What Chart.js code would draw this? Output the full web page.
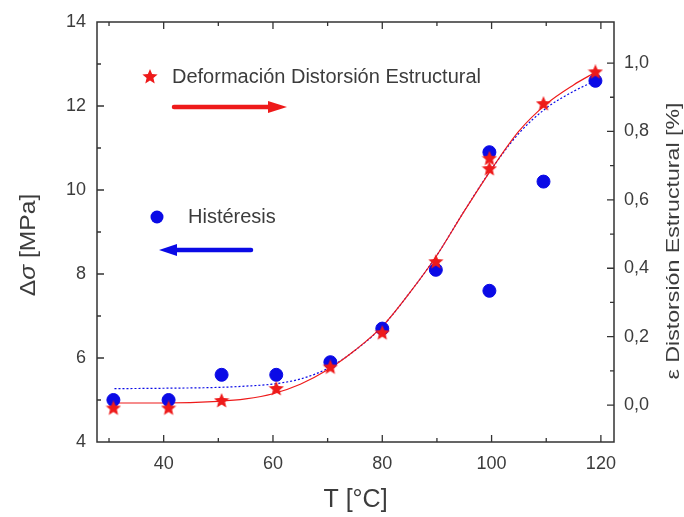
<!DOCTYPE html>
<html>
<head>
<meta charset="utf-8">
<script src="https://cdn.jsdelivr.net/npm/chart.js@4.4.1/dist/chart.umd.min.js"></script>
<style>
  body { margin: 0; background: #fff; }
  #wrap { width: 684px; height: 517px; }
</style>
</head>
<body>
<div id="wrap"><canvas id="grafico"></canvas></div>
<script>
// Temperatura de cada ensayo [°C]
const temperatura = [30.8, 40.9, 50.6, 60.6, 70.5, 80, 89.8, 99.6, 99.6, 109.5, 119];
// Histéresis Δσ [MPa] (eje izquierdo)
const histeresis = [5.0, 5.0, 5.6, 5.6, 5.9, 6.7, 8.1, 10.9, 7.6, 10.2, 12.6];
// Deformación por distorsión estructural [%] (eje derecho)
const deformacion = [-0.01, -0.01, 0.012, 0.047, 0.11, 0.21, 0.418, 0.72, 0.69, 0.88, 0.973];

// Curvas de ajuste
const ajusteT = [31, 40, 50, 55, 60, 65, 70, 75, 80, 85, 90, 95, 100, 105, 110, 115, 119];
const ajusteHist = [5.27, 5.28, 5.3, 5.33, 5.38, 5.5, 5.75, 6.18, 6.75, 7.55, 8.45, 9.5, 10.5, 11.35, 11.95, 12.35, 12.6];
const ajusteDef = [0.006, 0.006, 0.011, 0.018, 0.033, 0.061, 0.103, 0.16, 0.23, 0.328, 0.438, 0.567, 0.69, 0.801, 0.88, 0.936, 0.973];

// Marcas de los ejes
const ticksX = [40, 60, 80, 100, 120];
const ticksIzq = [4, 6, 8, 10, 12, 14];
const ticksDer = [0, 0.2, 0.4, 0.6, 0.8, 1.0];

const AZUL = '#0a0ae6';
const ROJO = '#ee1a1a';
const TEXTO = '#3c3c3c';
const FUENTE = '"Liberation Sans", Arial, sans-serif';

function estrella(r, color) {
    const c = document.createElement('canvas');
    c.width = c.height = 2 * r;
    const g = c.getContext('2d');
    g.beginPath();
    for (let i = 0; i < 10; i++) {
        const a = -Math.PI / 2 + i * Math.PI / 5;
        const rr = i % 2 ? r * 0.45 : r;
        g.lineTo(r + rr * Math.cos(a), r + rr * Math.sin(a));
    }
    g.closePath();
    g.fillStyle = color;
    g.fill();
    return c;
}
const imgEstrella = estrella(8, ROJO);

const pares = (xs, ys) => xs.map((x, i) => ({ x: x, y: ys[i] }));

// marco tipo Origin con marcas hacia dentro, títulos y leyenda
const marco = {
    id: 'marco',
    afterDraw(chart) {
        const ctx = chart.ctx;
        const ca = chart.chartArea;
        const sx = chart.scales.x, sy = chart.scales.y, sy1 = chart.scales.y1;
        ctx.save();
        ctx.strokeStyle = '#333';
        ctx.lineWidth = 1.5;
        ctx.strokeRect(ca.left, ca.top, ca.right - ca.left, ca.bottom - ca.top);

        ctx.lineWidth = 1.3;
        ctx.beginPath();
        for (let v = 30; v <= 120; v += 10) {
            const p = sx.getPixelForValue(v);
            const l = v % 20 === 0 ? 7 : 4;
            ctx.moveTo(p, ca.bottom); ctx.lineTo(p, ca.bottom - l);
            ctx.moveTo(p, ca.top); ctx.lineTo(p, ca.top + l);
        }
        for (let v = 5; v <= 13; v += 1) {
            const p = sy.getPixelForValue(v);
            const l = v % 2 === 0 ? 7 : 4;
            ctx.moveTo(ca.left, p); ctx.lineTo(ca.left + l, p);
        }
        for (let k = 0; k <= 10; k++) {
            const p = sy1.getPixelForValue(k / 10);
            const l = k % 2 === 0 ? 7 : 4;
            ctx.moveTo(ca.right, p); ctx.lineTo(ca.right - l, p);
        }
        ctx.stroke();

        // títulos de ejes
        ctx.fillStyle = TEXTO;
        ctx.textBaseline = 'middle';
        ctx.textAlign = 'center';
        ctx.font = '25px ' + FUENTE;
        ctx.fillText('T [°C]', (ca.left + ca.right) / 2, 500);

        ctx.save();
        ctx.translate(29, 245);
        ctx.rotate(-Math.PI / 2);
        ctx.scale(1.12, 1);
        ctx.font = '22px ' + FUENTE;
        const a = 'Δ', c = ' [MPa]';
        const wa = ctx.measureText(a).width, wc = ctx.measureText(c).width;
        ctx.font = 'italic 22px ' + FUENTE;
        const wb = ctx.measureText('σ').width;
        let x0 = -(wa + wb + wc) / 2;
        ctx.textAlign = 'left';
        ctx.font = '22px ' + FUENTE;
        ctx.fillText(a, x0, 0);
        ctx.font = 'italic 22px ' + FUENTE;
        ctx.fillText('σ', x0 + wa, 0);
        ctx.font = '22px ' + FUENTE;
        ctx.fillText(c, x0 + wa + wb, 0);
        ctx.restore();

        ctx.save();
        ctx.translate(674, 241);
        ctx.rotate(-Math.PI / 2);
        ctx.scale(1.22, 1);
        ctx.font = '19px ' + FUENTE;
        ctx.fillText('ε Distorsión Estructural [%]', 0, 0);
        ctx.restore();

        // leyenda
        ctx.drawImage(imgEstrella, 150 - 8, 77 - 8);
        ctx.textAlign = 'left';
        ctx.font = '20px ' + FUENTE;
        ctx.fillText('Deformación Distorsión Estructural', 172, 77);
        ctx.beginPath();
        ctx.arc(157, 217, 6.5, 0, Math.PI * 2);
        ctx.fillStyle = AZUL;
        ctx.fill();
        ctx.fillStyle = TEXTO;
        ctx.fillText('Histéresis', 188, 217);

        // flechas
        ctx.lineCap = 'round';
        ctx.strokeStyle = ROJO;
        ctx.fillStyle = ROJO;
        ctx.lineWidth = 4.5;
        ctx.beginPath(); ctx.moveTo(174, 107); ctx.lineTo(272, 107); ctx.stroke();
        ctx.beginPath(); ctx.moveTo(287, 107); ctx.lineTo(268, 101); ctx.lineTo(268, 113); ctx.closePath(); ctx.fill();
        ctx.strokeStyle = AZUL;
        ctx.fillStyle = AZUL;
        ctx.beginPath(); ctx.moveTo(251, 250); ctx.lineTo(174, 250); ctx.stroke();
        ctx.beginPath(); ctx.moveTo(159, 250); ctx.lineTo(177, 244); ctx.lineTo(177, 256); ctx.closePath(); ctx.fill();
        ctx.restore();
    }
};

const config = {
    type: 'scatter',
    data: {
        datasets: [
            {
                label: 'Deformación Distorsión Estructural',
                data: pares(temperatura, deformacion),
                yAxisID: 'y1',
                pointStyle: imgEstrella,
                order: 0
            },
            {
                label: 'Histéresis',
                data: pares(temperatura, histeresis),
                yAxisID: 'y',
                backgroundColor: AZUL,
                borderColor: AZUL,
                pointRadius: 6.5,
                order: 1
            },
            {
                label: 'Ajuste deformación',
                data: pares(ajusteT, ajusteDef),
                yAxisID: 'y1',
                showLine: true,
                borderColor: ROJO,
                borderWidth: 1.2,
                pointRadius: 0,
                cubicInterpolationMode: 'monotone',
                order: 2
            },
            {
                label: 'Ajuste histéresis',
                data: pares(ajusteT, ajusteHist),
                yAxisID: 'y',
                showLine: true,
                borderColor: AZUL,
                borderWidth: 1.2,
                borderDash: [2, 2],
                pointRadius: 0,
                cubicInterpolationMode: 'monotone',
                order: 3
            }
        ]
    },
    options: {
        responsive: true,
        maintainAspectRatio: false,
        animation: false,
        layout: { padding: { top: 22 } },
        plugins: {
            legend: { display: false },
            tooltip: { enabled: false }
        },
        scales: {
            x: {
                type: 'linear',
                min: 27.8,
                max: 122.4,
                grid: { display: false, drawTicks: false },
                border: { display: false },
                afterBuildTicks: s => { s.ticks = ticksX.map(v => ({ value: v })); },
                afterFit: s => { s.height = 75; },
                ticks: { color: TEXTO, padding: 11, font: { family: FUENTE, size: 18 } }
            },
            y: {
                position: 'left',
                min: 4,
                max: 14,
                grid: { display: false, drawTicks: false },
                border: { display: false },
                afterBuildTicks: s => { s.ticks = ticksIzq.map(v => ({ value: v })); },
                afterFit: s => { s.width = 97; },
                ticks: { color: TEXTO, padding: 11, font: { family: FUENTE, size: 18 } }
            },
            y1: {
                position: 'right',
                min: -0.108,
                max: 1.12,
                grid: { display: false, drawTicks: false },
                border: { display: false },
                afterBuildTicks: s => { s.ticks = ticksDer.map(v => ({ value: v })); },
                afterFit: s => { s.width = 70; },
                ticks: {
                    color: TEXTO,
                    padding: 10,
                    font: { family: FUENTE, size: 18 },
                    callback: v => v.toFixed(1).replace('.', ',')
                }
            }
        }
    },
    plugins: [marco]
};

new Chart(document.getElementById('grafico'), config);
</script>
</body>
</html>
